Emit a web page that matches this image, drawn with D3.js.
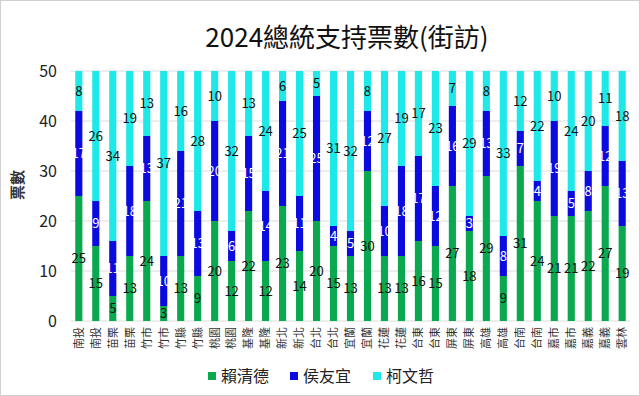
<!DOCTYPE html>
<html>
<head>
<meta charset="utf-8">
<script src="https://cdn.jsdelivr.net/npm/d3@7"></script>
<style>
  body { margin: 0; background: #fff; }
  svg { display: block; }
</style>
</head>
<body>
<div id="chart"></div>
<script>
const regions = ['南投', '南投', '苗栗', '苗栗', '竹市', '竹市', '竹縣', '竹縣', '桃園', '桃園',
    '基隆', '基隆', '新北', '新北', '台北', '台北', '宜蘭', '宜蘭', '花蓮', '花蓮',
    '台東', '台東', '屏東', '屏東', '高雄', '高雄', '台南', '台南', '嘉市', '嘉市',
    '嘉義', '嘉義', '雲林']
const lai = [25, 15, 5, 13, 24, 3, 13, 9, 20, 12, 22, 12, 23, 14, 20, 15, 13, 30, 13, 13,
    16, 15, 27, 18, 29, 9, 31, 24, 21, 21, 22, 27, 19]
const hou = [17, 9, 11, 18, 13, 10, 21, 13, 20, 6, 15, 14, 21, 11, 25, 4, 5, 12, 10, 18,
    17, 12, 16, 3, 13, 8, 7, 4, 19, 5, 8, 12, 13]
const ko = [8, 26, 34, 19, 13, 37, 16, 28, 10, 32, 13, 24, 6, 25, 5, 31, 32, 8, 27, 19,
    17, 23, 7, 29, 8, 33, 12, 22, 10, 24, 20, 11, 18]
const seriesNames = ['賴清德', '侯友宜', '柯文哲']
const yTicks = [0, 10, 20, 30, 40, 50]

const width = 640
const height = 396
const margin = {top: 71, right: 10, bottom: 75, left: 71}
const colors = ['#0aa84f', '#0b0be0', '#1fe8e8']
const labelColors = ['#111', '#fff', '#111']
const font = '"Noto Sans CJK TC", "Noto Sans", sans-serif'

const table = regions.map((r, i) => ({i: i, region: r, s0: lai[i], s1: hou[i], s2: ko[i]}))
const stacked = d3.stack().keys(['s0', 's1', 's2'])(table)

const svg = d3.select('#chart')
    .append('svg')
    .attr('width', width)
    .attr('height', height)

// outer frame
svg.append('rect')
    .attr('x', 0.5).attr('y', 0.5)
    .attr('width', width - 1).attr('height', height - 1)
    .attr('fill', '#fff')
    .attr('stroke', '#d0d0d0')

const xScale = d3.scaleBand()
    .domain(d3.range(regions.length))
    .range([margin.left, width - margin.right])
    .paddingInner(0.58)
    .paddingOuter(0.25)
const yScale = d3.scaleLinear().domain([0, 50]).range([height - margin.bottom, margin.top])

// grid lines
svg.append('g')
    .selectAll('line')
    .data(yTicks)
    .join('line')
    .attr('x1', margin.left)
    .attr('x2', width - margin.right)
    .attr('y1', d => yScale(d))
    .attr('y2', d => yScale(d))
    .attr('stroke', '#dcdcdc')
    .attr('stroke-width', 1)

// left axis labels
const yAxis = svg.append('g')
    .attr('transform', `translate(${margin.left - 14}, 0)`)
    .call(d3.axisLeft(yScale).tickValues(yTicks).tickSize(0).tickPadding(0))
yAxis.select('.domain').remove()
yAxis.selectAll('text')
    .style('font-family', font)
    .style('font-size', '16px')
    .attr('fill', '#222')

// stacked bars
const layers = svg.append('g')
    .selectAll('g')
    .data(stacked)
    .join('g')
    .attr('fill', (d, k) => colors[k])

layers.selectAll('rect')
    .data(d => d)
    .join('rect')
    .attr('x', d => xScale(d.data.i))
    .attr('width', xScale.bandwidth())
    .attr('y', d => yScale(d[1]))
    .attr('height', d => yScale(d[0]) - yScale(d[1]))

// value labels
stacked.forEach((layer, k) => {
    svg.append('g')
        .selectAll('text')
        .data(layer)
        .join('text')
        .attr('x', d => xScale(d.data.i) + xScale.bandwidth() / 2)
        .attr('y', d => yScale((d[0] + d[1]) / 2))
        .attr('dy', '0.35em')
        .attr('text-anchor', 'middle')
        .attr('fill', labelColors[k])
        .style('font-family', font)
        .style('font-size', '13px')
        .text(d => d[1] - d[0])
})

// bottom category labels
const xAxis = svg.append('g')
    .attr('transform', `translate(0, ${height - margin.bottom})`)
    .call(d3.axisBottom(xScale).tickSize(0).tickFormat(i => regions[i]))
xAxis.select('.domain').remove()
xAxis.selectAll('text')
    .attr('transform', 'rotate(-90)')
    .attr('x', -6)
    .attr('y', 0)
    .attr('dy', '0.35em')
    .attr('text-anchor', 'end')
    .attr('fill', '#333')
    .style('font-family', font)
    .style('font-size', '11px')

// Chart Title
svg.append('text')
    .attr('x', 347)
    .attr('y', 47)
    .attr('text-anchor', 'middle')
    .attr('fill', '#111')
    .style('font-family', font)
    .style('font-size', '26px')
    .text('2024總統支持票數(街訪)')

// Y label
svg.append('text')
    .attr('text-anchor', 'middle')
    .attr('transform', 'translate(23,185)rotate(-90)')
    .attr('fill', '#333')
    .style('font-family', font)
    .style('font-size', '15px')
    .style('font-weight', 'bold')
    .text('票數')

// legend
const legendX = [208, 290, 373]
const legend = svg.append('g')
    .selectAll('g')
    .data(seriesNames)
    .join('g')
    .attr('transform', (d, k) => `translate(${legendX[k]}, 376)`)
legend.append('rect')
    .attr('x', 0).attr('y', -4)
    .attr('width', 8).attr('height', 8)
    .attr('fill', (d, k) => colors[k])
legend.append('text')
    .attr('x', 13)
    .attr('dy', '0.35em')
    .attr('fill', '#222')
    .style('font-family', font)
    .style('font-size', '16px')
    .text(d => d)
</script>
</body>
</html>
